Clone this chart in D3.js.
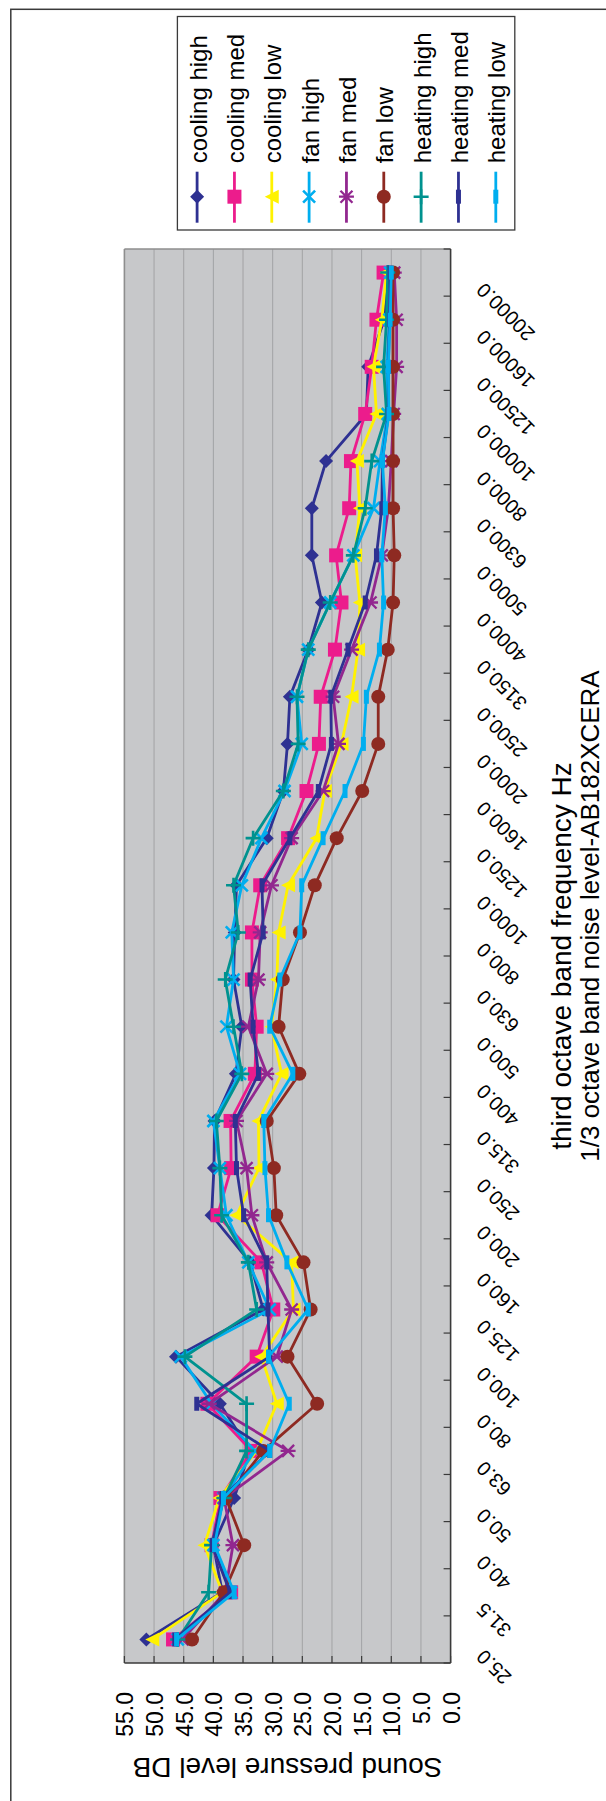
<!DOCTYPE html>
<html><head><meta charset="utf-8">
<script src="https://cdn.jsdelivr.net/npm/d3@7"></script>
<style>
body{margin:0;background:#fff}
svg{display:block}
text{font-family:"Liberation Sans",Arial,Helvetica,sans-serif;fill:#000}
</style>
</head><body>
<svg id="chart" width="606" height="1801"></svg>
<script>
// ---------- data ----------
const categories = ["25.0","31.5","40.0","50.0","63.0","80.0","100.0","125.0","160.0","200.0","250.0","315.0","400.0","500.0","630.0","800.0","1000.0","1250.0","1600.0","2000.0","2500.0","3150.0","4000.0","5000.0","6300.0","8000.0","10000.0","12500.0","16000.0","20000.0"];
const valueTicks = [55,50,45,40,35,30,25,20,15,10,5,0];
const seriesNames = ["cooling high","cooling med","cooling low","fan high","fan med","fan low","heating high","heating med","heating low"];

const coolingHigh = [51.3,38.5,40.0,36.5,33.8,38.9,46.3,31.6,33.8,40.3,39.9,39.8,36.2,35.2,36.6,36.4,36.1,31.0,28.2,27.5,27.1,24.0,21.7,23.4,23.4,21.0,14.2,13.9,11.2,10.5];
const coolingMed  = [46.8,37.0,40.3,38.8,33.6,41.0,32.7,29.9,31.9,39.3,37.0,37.1,33.0,32.7,33.5,33.5,32.1,27.4,24.3,22.2,21.9,19.5,18.4,19.3,17.1,16.8,14.4,13.3,12.5,11.3];
const coolingLow  = [50.3,38.5,41.5,39.0,32.7,29.3,31.9,26.5,26.8,36.1,32.3,32.4,28.5,30.2,29.3,29.0,27.4,22.6,21.2,18.4,16.7,15.6,15.3,16.1,15.3,15.8,12.5,13.0,11.6,10.8];
const fanHigh     = [46.0,37.0,40.0,38.3,33.0,40.3,45.5,30.5,34.1,37.8,38.9,40.0,35.5,37.8,36.6,36.9,35.2,31.9,28.0,25.1,25.9,24.0,20.3,16.4,13.0,11.9,10.6,10.8,10.3,10.2];
const fanMed      = [45.2,38.0,36.7,38.2,27.4,40.7,29.3,26.8,31.0,33.5,34.4,36.1,31.0,34.1,32.4,32.1,30.2,26.8,21.5,18.9,19.8,16.7,13.5,11.6,10.5,10.0,9.6,9.1,9.1,9.5];
const fanLow      = [43.6,38.2,34.8,37.9,31.6,22.5,27.5,23.6,24.8,29.4,29.8,31.0,25.5,29.0,28.3,25.4,22.9,19.2,14.9,12.2,12.2,10.6,9.7,9.5,9.7,9.7,9.7,9.7,9.7,9.7];
const heatingHigh = [46.0,40.8,40.3,38.2,34.4,34.4,44.8,32.7,34.1,38.6,38.9,39.5,35.2,36.6,38.0,35.8,36.6,33.3,28.2,25.7,25.9,24.0,20.3,16.4,14.4,13.3,10.8,11.3,10.8,10.6];
const heatingMed  = [46.5,37.2,40.2,38.5,30.5,42.8,30.5,30.8,31.0,34.9,36.1,36.3,32.4,33.3,33.8,31.6,31.8,27.1,22.3,20.1,20.2,17.3,14.4,12.5,11.6,11.5,10.5,10.5,10.3,10.2];
const heatingLow  = [46.2,36.5,39.8,38.3,30.5,27.2,30.7,24.0,27.6,30.7,31.3,31.5,26.6,30.5,28.8,25.4,25.1,21.5,17.8,14.7,14.2,12.0,11.3,11.6,11.0,11.5,10.4,10.5,10.2,10.0];

const seriesValues = [coolingHigh,coolingMed,coolingLow,fanHigh,fanMed,fanLow,heatingHigh,heatingMed,heatingLow];

// ---------- styles ----------
const seriesColors = ["#2E3192","#EC1C8C","#FFF200","#00AEEF","#92278F","#8E2A22","#00928F","#2E3192","#00AEEF"];
const seriesMarkers = ["diamond","square","triangle","x","star","circle","plus","dash","dash"];

const svg = d3.select("#chart");
const P = {left:124.4, right:450.6, top:249, bottom:1663};

const x = d3.scaleLinear().domain([55,0]).range([P.left, P.right]);
const y = d3.scaleBand().domain(categories).range([P.bottom, P.top]).padding(0);
const cy = c => y(c) + y.bandwidth()/2;

// outer frame
svg.append("rect").attr("x",10.8).attr("y",9.3).attr("width",900).attr("height",2100)
  .attr("fill","#fff").attr("stroke","#3a3a3a").attr("stroke-width",1.5);

// plot background
svg.append("rect").attr("x",P.left).attr("y",P.top).attr("width",P.right-P.left).attr("height",P.bottom-P.top)
  .attr("fill","#C7C8CA");

// gridlines
svg.append("g").selectAll("line").data(valueTicks.filter(v=>v!==55 && v!==0)).join("line")
  .attr("x1",d=>x(d)).attr("x2",d=>x(d)).attr("y1",P.top).attr("y2",P.bottom)
  .attr("stroke","#A2A3A5").attr("stroke-width",1);

// plot borders (top/left light)
svg.append("line").attr("x1",P.left).attr("x2",P.right).attr("y1",P.top).attr("y2",P.top)
  .attr("stroke","#8e8e8e").attr("stroke-width",1.6);
svg.append("line").attr("x1",P.left).attr("x2",P.left).attr("y1",P.top).attr("y2",P.bottom)
  .attr("stroke","#8e8e8e").attr("stroke-width",1.6);

// category axis (right side)
svg.append("line").attr("x1",P.right).attr("x2",P.right).attr("y1",P.top).attr("y2",P.bottom)
  .attr("stroke","#3a3a3a").attr("stroke-width",1.6);
const bounds = categories.map(c=>y(c)).concat([P.bottom]);
svg.append("g").selectAll("line").data(bounds).join("line")
  .attr("x1",P.right-7).attr("x2",P.right).attr("y1",d=>d).attr("y2",d=>d)
  .attr("stroke","#3a3a3a").attr("stroke-width",1.2);
svg.append("g").selectAll("text").data(categories).join("text")
  .attr("transform",d=>`translate(485,${cy(d)+9}) rotate(-135)`)
  .attr("text-anchor","end").attr("font-size",20).text(d=>d);

// value axis (bottom)
svg.append("line").attr("x1",P.left).attr("x2",P.right).attr("y1",P.bottom).attr("y2",P.bottom)
  .attr("stroke","#3a3a3a").attr("stroke-width",1.6);
svg.append("g").selectAll("line").data(valueTicks).join("line")
  .attr("x1",d=>x(d)).attr("x2",d=>x(d)).attr("y1",P.bottom-7).attr("y2",P.bottom)
  .attr("stroke","#3a3a3a").attr("stroke-width",1.2);
svg.append("g").selectAll("text").data(valueTicks).join("text")
  .attr("transform",d=>`translate(${x(d)+9},1692) rotate(-90)`)
  .attr("text-anchor","end").attr("font-size",23).text(d=>d.toFixed(1));

// axis titles
svg.append("text").attr("transform",`translate(${(P.left+P.right)/2},1758) rotate(180)`)
  .attr("text-anchor","middle").attr("font-size",28).text("Sound pressure level DB");
svg.append("text").attr("transform",`translate(571,${(P.top+P.bottom)/2}) rotate(-90)`)
  .attr("text-anchor","middle").attr("font-size",28).text("third octave band frequency Hz");
// chart title
svg.append("text").attr("transform",`translate(599,916) rotate(-90)`)
  .attr("text-anchor","middle").attr("font-size",26).text("1/3 octave band noise level-AB182XCERA");

// marker drawing
function marker(g, type, color, px, py){
  const s = 7;
  if(type==="diamond"){
    g.append("path").attr("d",`M${px-s},${py}L${px},${py-s}L${px+s},${py}L${px},${py+s}Z`).attr("fill",color);
  } else if(type==="square"){
    g.append("rect").attr("x",px-s).attr("y",py-s).attr("width",2*s).attr("height",2*s).attr("fill",color);
  } else if(type==="triangle"){
    g.append("path").attr("d",`M${px-s},${py}L${px+s},${py-s}L${px+s},${py+s}Z`).attr("fill",color);
  } else if(type==="circle"){
    g.append("circle").attr("cx",px).attr("cy",py).attr("r",7).attr("fill",color);
  } else if(type==="x"){
    const t=6;
    g.append("path").attr("d",`M${px-t},${py-t}L${px+t},${py+t}M${px-t},${py+t}L${px+t},${py-t}`)
      .attr("stroke",color).attr("stroke-width",2.6).attr("fill","none");
  } else if(type==="star"){
    const t=6;
    g.append("path").attr("d",`M${px-t},${py-t}L${px+t},${py+t}M${px-t},${py+t}L${px+t},${py-t}M${px-7.5},${py}L${px+7.5},${py}`)
      .attr("stroke",color).attr("stroke-width",2.3).attr("fill","none");
  } else if(type==="plus"){
    const t=7.5;
    g.append("path").attr("d",`M${px-t},${py}L${px+t},${py}M${px},${py-t}L${px},${py+t}`)
      .attr("stroke",color).attr("stroke-width",2.6).attr("fill","none");
  } else if(type==="dash"){
    g.append("rect").attr("x",px-2.5).attr("y",py-7).attr("width",5).attr("height",14).attr("fill",color);
  }
}

// series
const line = d3.line().x(d=>x(d.v)).y(d=>cy(d.c));
seriesNames.forEach((name,i)=>{
  const pts = categories.map((c,k)=>({c, v: seriesValues[i][k]}));
  const g = svg.append("g");
  g.append("path").datum(pts).attr("d",line).attr("fill","none")
    .attr("stroke",seriesColors[i]).attr("stroke-width",2.8).attr("stroke-linejoin","round");
  pts.forEach(p=>marker(g, seriesMarkers[i], seriesColors[i], x(p.v), cy(p.c)));
});

// legend
svg.append("rect").attr("x",177.4).attr("y",16.5).attr("width",337.4).attr("height",213.5)
  .attr("fill","#fff").attr("stroke","#3a3a3a").attr("stroke-width",1.3);
const lx = d3.scaleLinear().domain([0,8]).range([197.1,495.8]);
seriesNames.forEach((name,i)=>{
  const g = svg.append("g");
  const px = lx(i);
  g.append("line").attr("x1",px).attr("x2",px).attr("y1",171.7).attr("y2",222.7)
    .attr("stroke",seriesColors[i]).attr("stroke-width",2.8);
  marker(g, seriesMarkers[i], seriesColors[i], px, 196.7);
  g.append("text").attr("transform",`translate(${px+9.5},163.3) rotate(-90)`)
    .attr("font-size",24).text(name);
});
</script>
</body></html>
